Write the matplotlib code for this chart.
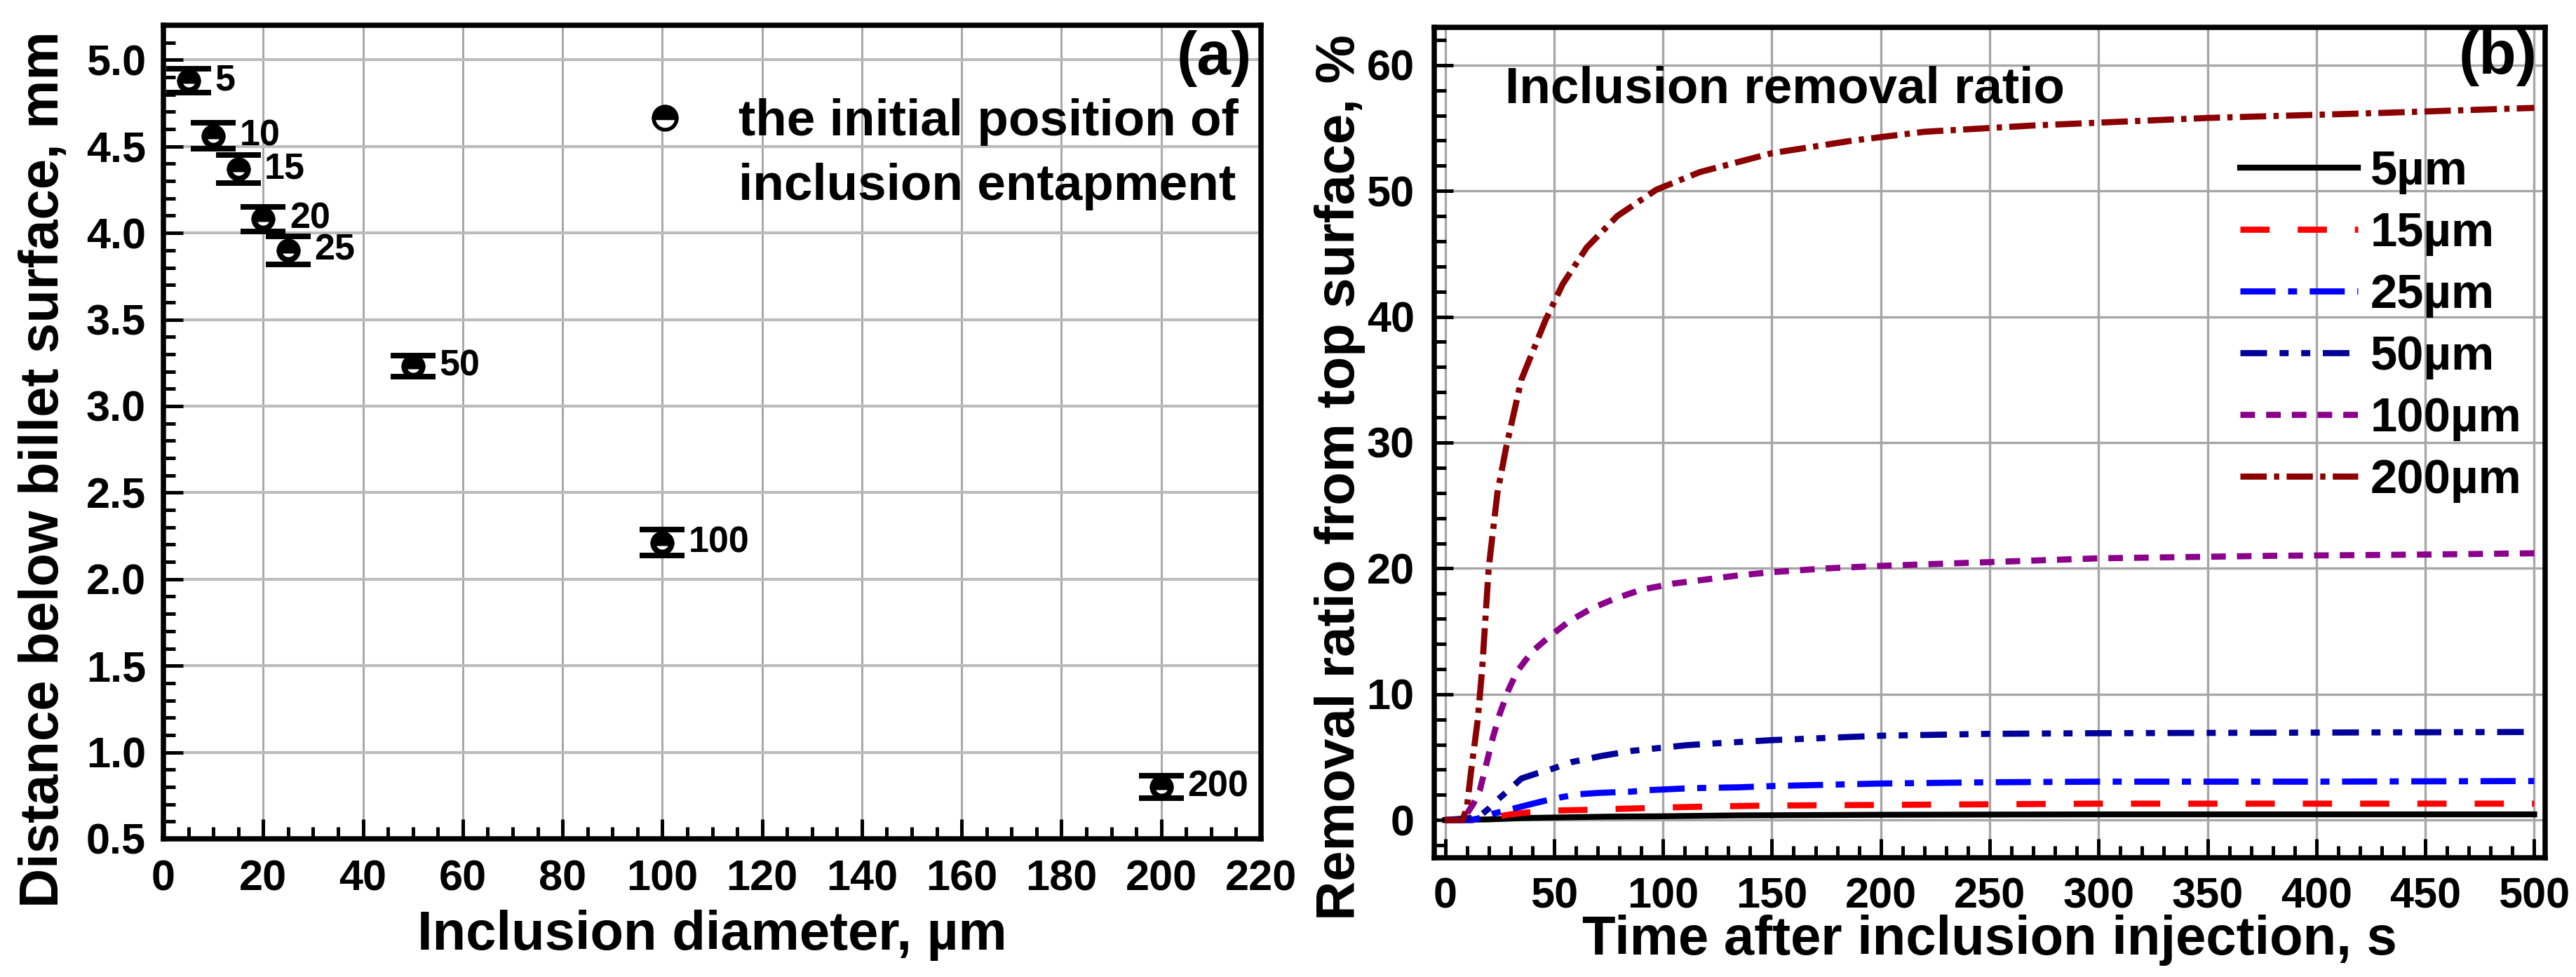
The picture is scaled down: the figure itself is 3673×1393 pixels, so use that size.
import matplotlib
matplotlib.use("Agg")
import matplotlib.pyplot as plt
from matplotlib.ticker import MultipleLocator, FormatStrFormatter

plt.rcParams['font.family'] = ['Liberation Sans', 'DejaVu Sans']
plt.rcParams['font.weight'] = 'bold'
plt.rcParams['axes.labelweight'] = 'bold'
plt.rcParams['axes.linewidth'] = 1.8
plt.rcParams['lines.scale_dashes'] = False

# ---------------- data: panel (a) ----------------
diameters = [5, 10, 15, 20, 25, 50, 100, 200]
depths = [4.88, 4.56, 4.37, 4.08, 3.90, 3.23, 2.21, 0.80]
depth_err = [0.07, 0.075, 0.08, 0.07, 0.08, 0.06, 0.075, 0.065]
point_labels = ['5', '10', '15', '20', '25', '50', '100', '200']

# ---------------- data: panel (b) ----------------
t5 = [0, 20, 35, 50, 75, 100, 135, 200, 300, 400, 500]
r5 = [0, 0.05, 0.15, 0.2, 0.27, 0.3, 0.37, 0.42, 0.45, 0.45, 0.45]

t15 = [0, 22, 25, 30, 38, 50, 63, 76, 89, 102, 115, 129, 150, 200, 250, 300, 400, 500]
r15 = [0, 0, 0.3, 0.45, 0.6, 0.75, 0.8, 0.87, 0.93, 1.0, 1.05, 1.1, 1.15, 1.2, 1.25, 1.3, 1.3, 1.3]

t25 = [0, 12, 17, 22, 30, 38, 45, 53, 61, 70, 77, 85, 93, 109, 118, 135, 150, 200, 250, 300, 400, 500]
r25 = [0, 0, 0.2, 0.5, 0.85, 1.2, 1.5, 1.8, 2.05, 2.15, 2.2, 2.25, 2.37, 2.5, 2.55, 2.6, 2.7, 2.9, 3.0, 3.05, 3.05, 3.1]

t50 = [0, 15, 20, 24, 30, 35, 42, 48, 58, 72, 86, 97, 111, 125, 150, 200, 250, 300, 400, 500]
r50 = [0, 0.2, 0.9, 1.6, 2.5, 3.3, 3.7, 4.0, 4.6, 5.1, 5.5, 5.7, 5.95, 6.1, 6.35, 6.7, 6.85, 6.9, 6.95, 7.0]

t100 = [0, 8, 10, 13, 16, 19, 22, 25, 29, 33, 40, 48, 57, 67, 78, 90, 105, 119, 135, 150, 175, 200, 250, 300, 380, 450, 500]
r100 = [0, 0, 0.5, 1.3, 2.4, 4.5, 6.6, 8.4, 10.3, 11.8, 13.4, 14.6, 15.8, 16.8, 17.6, 18.3, 18.8, 19.1, 19.45, 19.7, 20.0, 20.2, 20.5, 20.8, 21.0, 21.1, 21.2]

t200 = [0, 8, 10, 12, 15, 17, 20, 24, 28, 35, 46, 54, 65, 79, 97, 117, 150, 187, 220, 270, 350, 430, 500]
r200 = [0, 0, 1.0, 4.0, 8.0, 12.0, 20.0, 26.0, 29.6, 35.0, 39.7, 42.6, 45.5, 48.0, 50.1, 51.5, 53.0, 54.0, 54.7, 55.2, 55.8, 56.2, 56.6]

series_labels = ['5µm', '15µm', '25µm', '50µm', '100µm', '200µm']
series_t = [t5, t15, t25, t50, t100, t200]
series_r = [r5, r15, r25, r50, r100, r200]

# styles
colors = ['black', '#ff0000', '#0000ff', '#000099', '#8b008b', '#8b0000']
dashes = [None, (10, 9.6), (12, 4.3, 3.1, 4.3), (9.1, 4.3, 3.1, 4.3, 3.1, 4.3),
          (5, 3.8), (9, 2.5, 1.8, 2.5)]
lws = [2.0, 2.1, 2.1, 2.1, 2.1, 2.1]

W, H = 3673, 1393
fig = plt.figure(figsize=(W / 300, H / 300), dpi=300)

# ---------------- panel (a) ----------------
axa = fig.add_axes([233 / W, 1 - 1196 / H, (1798 - 233) / W, (1196 - 36) / H])
axa.set_xlim(0, 220)
axa.set_ylim(0.5, 5.2)
axa.xaxis.set_major_locator(MultipleLocator(20))
axa.xaxis.set_minor_locator(MultipleLocator(5))
axa.yaxis.set_major_locator(MultipleLocator(0.5))
axa.yaxis.set_minor_locator(MultipleLocator(0.1))
axa.yaxis.set_major_formatter(FormatStrFormatter('%.1f'))
axa.grid(True, which='major', axis='x', color='#a6a6a6', lw=0.7, zorder=0)
axa.grid(True, which='major', axis='y', color='#bcbcbc', lw=1.0, zorder=0)
axa.set_axisbelow(True)
axa.tick_params(which='both', direction='in', top=False, right=False, width=1.2)
axa.tick_params(which='major', length=6.7, labelsize=14.7)
axa.tick_params(which='minor', length=4.0)
axa.tick_params(axis='x', which='major', pad=7.0)
axa.tick_params(axis='y', which='major', pad=6.0)

axa.errorbar(diameters, depths, yerr=depth_err, fmt='o', color='black',
             fillstyle='top', markerfacecolor='black', markerfacecoloralt='white',
             markeredgecolor='black', ms=6.3, mew=1.9, elinewidth=1.6,
             capsize=7.6, capthick=1.6, zorder=3)
for d, y, lab in zip(diameters, depths, point_labels):
    axa.annotate(lab, (d, y), xytext=(9, 0), textcoords='offset points',
                 ha='left', va='center', fontsize=12.5, fontweight='bold')

axa.set_xlabel('Inclusion diameter, µm', fontsize=18.7, fontweight='bold')
axa.set_ylabel('Distance below billet surface, mm', fontsize=18.7, fontweight='bold')
axa.xaxis.set_label_coords(0.5, -0.087)
axa.yaxis.set_label_coords(-0.0856, 0.454)

axa.text(0.9917, 0.994, '(a)', transform=axa.transAxes, ha='right', va='top',
         fontsize=21, fontweight='bold')
# legend-like annotation
axa.plot([0.457], [0.886], transform=axa.transAxes, marker='o', fillstyle='top',
         markerfacecolor='black', markerfacecoloralt='white', markeredgecolor='black',
         ms=7.9, mew=1.3, ls='none', clip_on=False)
axa.text(0.524, 0.8647, 'the initial position of', transform=axa.transAxes,
         ha='left', va='baseline', fontsize=17.5, fontweight='bold')
axa.text(0.524, 0.7853, 'inclusion entapment', transform=axa.transAxes,
         ha='left', va='baseline', fontsize=17.5, fontweight='bold')

# ---------------- panel (b) ----------------
axb = fig.add_axes([2045 / W, 1 - 1223 / H, (3629 - 2045) / W, (1223 - 39) / H])
axb.set_xlim(-5, 505)
axb.set_ylim(-3, 63)
axb.xaxis.set_major_locator(MultipleLocator(50))
axb.xaxis.set_minor_locator(MultipleLocator(10))
axb.yaxis.set_major_locator(MultipleLocator(10))
axb.yaxis.set_minor_locator(MultipleLocator(2))
axb.grid(True, which='major', color='#a6a6a6', lw=0.8, zorder=0)
axb.set_axisbelow(True)
axb.tick_params(which='both', direction='in', top=False, right=False, width=1.2)
axb.tick_params(which='major', length=6.5, labelsize=14.7)
axb.tick_params(which='minor', length=4.0)
axb.tick_params(axis='x', which='major', pad=6.5)
axb.tick_params(axis='y', which='major', pad=6.8)

handles = []
for t, r, lab, c, ds, lw in zip(series_t, series_r, series_labels, colors, dashes, lws):
    if ds is None:
        ln, = axb.plot(t, r, color=c, lw=lw, ls='-', label=lab, zorder=3)
    else:
        ln, = axb.plot(t, r, color=c, lw=lw, ls=(0, ds), label=lab, zorder=3)
    handles.append(ln)

leg = axb.legend(handles=handles, loc='upper left', bbox_to_anchor=(0.7254, 0.853),
                 frameon=False, fontsize=16.5, handlelength=2.45, handletextpad=0.25,
                 labelspacing=0.35, borderpad=0, borderaxespad=0)

axb.text(27.5, 57.0, 'Inclusion removal ratio', ha='left', va='baseline',
         fontsize=17.5, fontweight='bold')
axb.text(0.9927, 0.9975, '(b)', transform=axb.transAxes, ha='right', va='top',
         fontsize=21, fontweight='bold')

axb.set_xlabel('Time after inclusion injection, s', fontsize=18.7, fontweight='bold')
axb.set_ylabel('Removal ratio from top surface, %', fontsize=18.7, fontweight='bold')
axb.xaxis.set_label_coords(0.5, -0.068)
axb.yaxis.set_label_coords(-0.0619, 0.458)

fig.savefig('out.png', dpi=300)
